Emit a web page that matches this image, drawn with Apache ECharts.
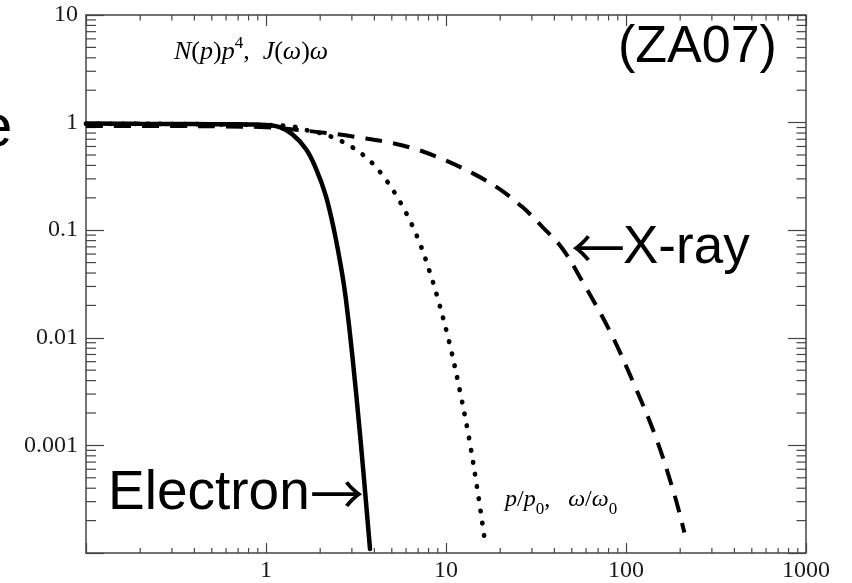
<!DOCTYPE html>
<html><head><meta charset="utf-8">
<script src="https://cdn.jsdelivr.net/npm/echarts@6/dist/echarts.min.js"></script>
<style>html,body{margin:0;padding:0;background:#fff}#c{width:852px;height:583px}</style>
</head><body><div id="c"></div>
<script>
// Axis ranges and ticks
const xRange = [0.1, 1000];
const yRange = [0.0001, 10];
const xDecades = [0.1, 1, 10, 100];
const yDecades = [0.0001, 0.001, 0.01, 0.1, 1];
const minorMultipliers = [2, 3, 4, 5, 6, 7, 8, 9];

// Electron (solid)
const electronX = [0.1, 0.2, 0.4, 0.6, 0.8, 1.0, 1.19, 1.4, 1.67, 1.9, 2.15, 2.4, 2.637, 2.776, 3.016, 3.342, 3.603, 3.783];
const electronY = [0.98, 0.975, 0.97, 0.965, 0.96, 0.95, 0.91, 0.78, 0.566, 0.37, 0.209, 0.096, 0.0412, 0.0232, 0.00689, 0.00118, 0.000282, 0.000109];

// Dotted curve
const dotX = [0.1, 0.3, 0.6, 1.0, 1.4, 1.63, 1.93, 2.25, 2.97, 3.83, 4.68, 5.55, 6.44, 7.29, 8.08, 8.87, 10.43, 11.96, 13.47, 14.93, 16.5];
const dotY = [0.975, 0.97, 0.96, 0.95, 0.92, 0.86, 0.81, 0.752, 0.60, 0.432, 0.288, 0.184, 0.114, 0.0698, 0.0421, 0.0253, 0.00908, 0.00318, 0.001135, 0.000391, 0.000125];

// X-ray (dashed)
const xrayX = [0.1, 0.3, 0.6, 1.0, 1.67, 2.34, 3.3, 4.84, 6.81, 9.58, 14.37, 19.78, 26.6, 34.4, 44.4, 57.4, 80.8, 111.2, 146.8, 185.5, 211];
const xrayY = [0.93, 0.93, 0.92, 0.905, 0.84, 0.79, 0.727, 0.653, 0.566, 0.457, 0.332, 0.242, 0.164, 0.107, 0.0673, 0.0331, 0.0118, 0.00366, 0.001175, 0.000352, 0.000155];

const pairs = (xs, ys) => xs.map((x, i) => [x, ys[i]]);

const minorData = [];
xDecades.forEach(d => minorMultipliers.forEach(m => minorData.push([d * m, 1, 0])));
yDecades.forEach(d => minorMultipliers.forEach(m => minorData.push([1, d * m, 1])));

const axisColor = '#444';
const labelFont = 'Liberation Serif';
const sans = 'Liberation Sans';
const cjk = 'Noto Sans CJK JP';

function fmt(v) {
  if (v >= 1) return String(Math.round(v));
  return String(Number(v.toPrecision(1)));
}

const chart = echarts.init(document.getElementById('c'), null, {renderer: 'canvas'});
chart.setOption({
  animation: false,
  backgroundColor: '#fff',
  grid: {left: 86, right: 46, top: 15, bottom: 27, containLabel: false},
  xAxis: [
    {type: 'log', logBase: 10, min: xRange[0], max: xRange[1], position: 'bottom',
     axisLine: {show: true, onZero: false, lineStyle: {color: axisColor, width: 1.5}},
     axisTick: {show: true, inside: true, length: 10, lineStyle: {color: axisColor, width: 1.2}},
     splitLine: {show: false},
     axisLabel: {show: true, margin: 6, color: '#1a1a1a', fontFamily: labelFont, fontSize: 24,
                 showMinLabel: true, showMaxLabel: true,
                 formatter: v => (v < 0.5 ? '' : fmt(v))}},
    {type: 'log', logBase: 10, min: xRange[0], max: xRange[1], position: 'top',
     axisLine: {show: true, onZero: false, lineStyle: {color: axisColor, width: 1.5}},
     axisTick: {show: true, inside: true, length: 11, lineStyle: {color: axisColor, width: 1.2}},
     splitLine: {show: false}, axisLabel: {show: false}}
  ],
  yAxis: [
    {type: 'log', logBase: 10, min: yRange[0], max: yRange[1], position: 'left',
     axisLine: {show: true, onZero: false, lineStyle: {color: axisColor, width: 1.5}},
     axisTick: {show: true, inside: true, length: 18, lineStyle: {color: axisColor, width: 1.2}},
     splitLine: {show: false},
     axisLabel: {show: true, margin: 8, color: '#1a1a1a', fontFamily: labelFont, fontSize: 24,
                 showMinLabel: true, showMaxLabel: true,
                 formatter: v => (v < 0.0005 ? '' : fmt(v))}},
    {type: 'log', logBase: 10, min: yRange[0], max: yRange[1], position: 'right',
     axisLine: {show: true, onZero: false, lineStyle: {color: axisColor, width: 1.5}},
     axisTick: {show: true, inside: true, length: 18, lineStyle: {color: axisColor, width: 1.2}},
     splitLine: {show: false}, axisLabel: {show: false}}
  ],
  series: [
    {type: 'custom', coordinateSystem: 'cartesian2d', xAxisIndex: 0, yAxisIndex: 0,
     silent: true, data: minorData, z: 1,
     renderItem: function (params, api) {
       const kind = api.value(2);
       const st = {stroke: axisColor, lineWidth: 1.2};
       if (kind === 0) {
         const v = api.value(0);
         const b = api.coord([v, yRange[0]]);
         const t = api.coord([v, yRange[1]]);
         return {type: 'group', children: [
           {type: 'line', shape: {x1: b[0], y1: b[1], x2: b[0], y2: b[1] - 5}, style: st},
           {type: 'line', shape: {x1: t[0], y1: t[1], x2: t[0], y2: t[1] + 5.5}, style: st}
         ]};
       } else {
         const v = api.value(1);
         const l = api.coord([xRange[0], v]);
         const r = api.coord([xRange[1], v]);
         return {type: 'group', children: [
           {type: 'line', shape: {x1: l[0], y1: l[1], x2: l[0] + 10, y2: l[1]}, style: st},
           {type: 'line', shape: {x1: r[0], y1: r[1], x2: r[0] - 9.5, y2: r[1]}, style: st}
         ]};
       }
     }},
    {name: 'X-ray', type: 'line', data: pairs(xrayX, xrayY), showSymbol: false, symbol: 'none',
     smooth: 0.35, clip: true, z: 3,
     lineStyle: {color: '#000', width: 4, type: [17, 11], cap: 'butt'}},
    {name: 'Dotted', type: 'line', data: pairs(dotX, dotY), showSymbol: false, symbol: 'none',
     smooth: 0.35, clip: true, z: 3,
     lineStyle: {color: '#000', width: 4.7, type: [0.5, 11.8], cap: 'round'}},
    {name: 'Electron', type: 'line', data: pairs(electronX, electronY), showSymbol: false, symbol: 'none',
     smooth: 0.4, clip: true, z: 4,
     lineStyle: {color: '#000', width: 4.5, cap: 'round'}}
  ],
  graphic: [
    {type: 'text', x: -21, y: 129, style: {text: 'e', font: '60px "' + sans + '"', fill: '#000', verticalAlign: 'middle', align: 'left'}},
    {type: 'text', x: 174, y: 50, style: {
      text: '{i|N}{r|(}{i|p}{r|)}{i|p}{s|4}{r|,  }{i|J}{r|(}{i|ω}{r|)}{i|ω}',
      verticalAlign: 'middle', align: 'left', fill: '#000',
      rich: {
        i: {fontFamily: labelFont, fontStyle: 'italic', fontSize: 26, lineHeight: 30, verticalAlign: 'bottom'},
        r: {fontFamily: labelFont, fontSize: 26, lineHeight: 30, verticalAlign: 'bottom'},
        s: {fontFamily: labelFont, fontSize: 17, lineHeight: 30, verticalAlign: 'top'}
      }}},
    {type: 'text', x: 618, y: 48, style: {text: '(ZA07)', font: '52px "' + sans + '"', fill: '#000', verticalAlign: 'middle', align: 'left'}},
    {type: 'text', x: 108, y: 494, style: {text: 'Electron', font: '55px "' + sans + '"', fill: '#000', verticalAlign: 'middle', align: 'left'}},
    {type: 'text', x: 310, y: 494, style: {text: '→', font: '54px "' + cjk + '"', fill: '#000', verticalAlign: 'middle', align: 'left'}},
    {type: 'text', x: 571, y: 248, style: {text: '←', font: '54px "' + cjk + '"', fill: '#000', verticalAlign: 'middle', align: 'left'}},
    {type: 'text', x: 623, y: 248, style: {text: 'X-ray', font: '53px "' + sans + '"', fill: '#000', verticalAlign: 'middle', align: 'left'}},
    {type: 'text', x: 505, y: 503, style: {
      text: '{i|p}{r|/}{i|p}{b|0}{r|,   }{i|ω}{r|/}{i|ω}{b|0}',
      verticalAlign: 'middle', align: 'left', fill: '#000',
      rich: {
        i: {fontFamily: labelFont, fontStyle: 'italic', fontSize: 24, lineHeight: 30, verticalAlign: 'top'},
        r: {fontFamily: labelFont, fontSize: 24, lineHeight: 30, verticalAlign: 'top'},
        b: {fontFamily: labelFont, fontSize: 17, lineHeight: 30, verticalAlign: 'bottom'}
      }}}
  ]
});
</script></body></html>
